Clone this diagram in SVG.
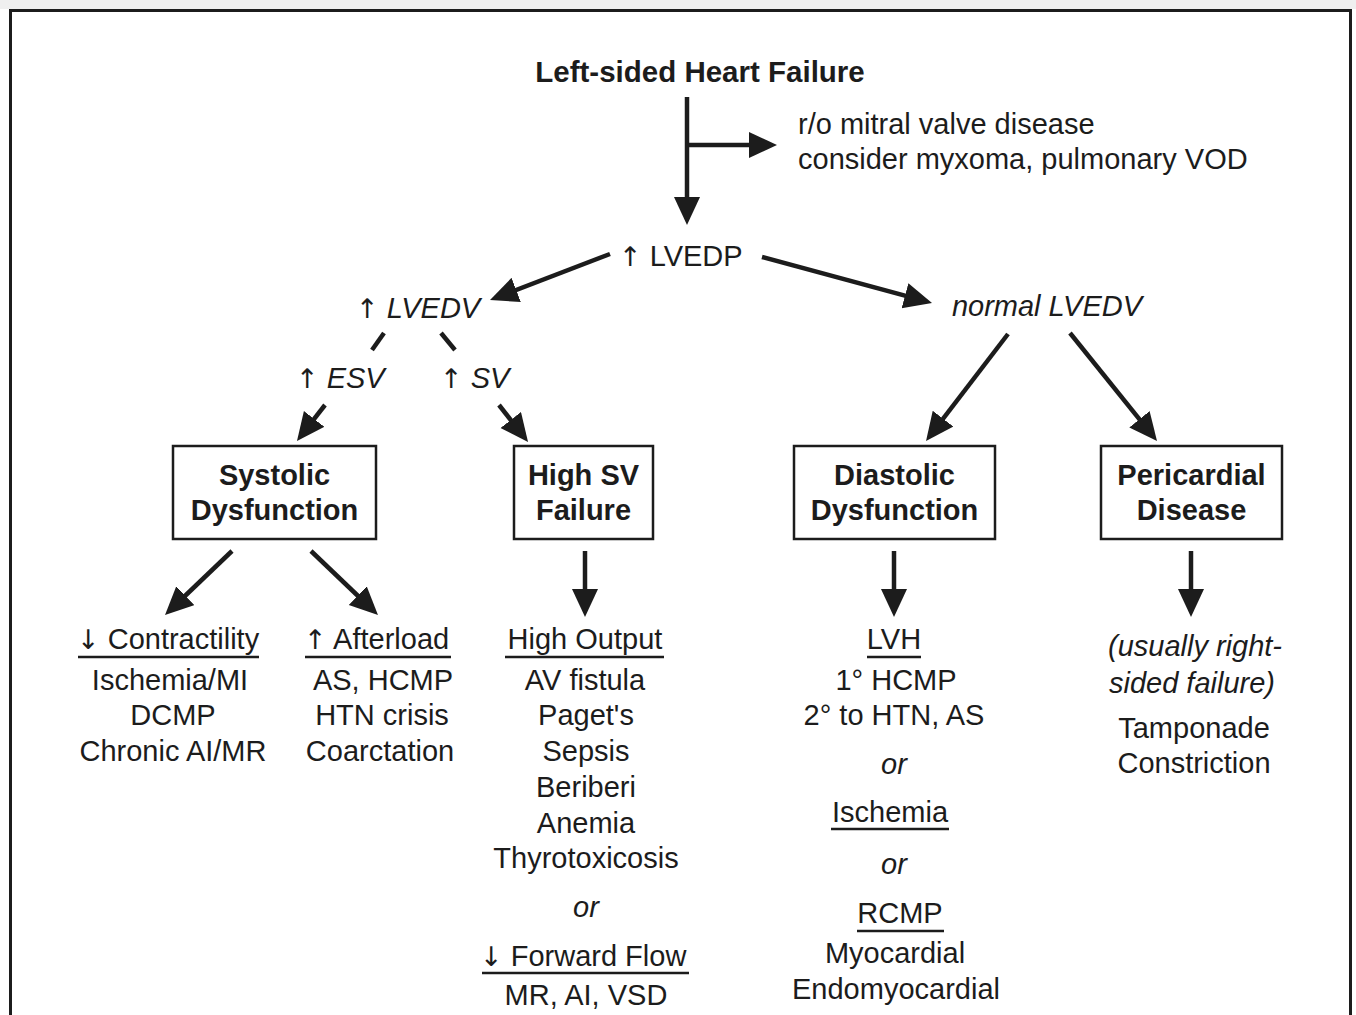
<svg xmlns="http://www.w3.org/2000/svg" width="1356" height="1015" viewBox="0 0 1356 1015">
<defs>
<style>
text{font-family:"Liberation Sans",Arial,Helvetica,sans-serif;font-size:29px;fill:#1c1c1c}
.b{font-weight:bold}
.i{font-style:italic}
.m{text-anchor:middle}
.ar{font-family:"DejaVu Sans",sans-serif;font-style:normal;font-size:27px}
.box{fill:#fff;stroke:#1c1c1c;stroke-width:2.5}
.c line{stroke:#1c1c1c;stroke-width:4.5}
.u{stroke:#1c1c1c;stroke-width:2.5}
</style>
<marker id="ah" markerUnits="userSpaceOnUse" markerWidth="30" markerHeight="28" refX="20" refY="13" orient="auto">
<path d="M0,0 L28,13 L0,26 z" fill="#1c1c1c"/>
</marker>
</defs>
<rect x="0" y="0" width="1356" height="1015" fill="#fff"/>
<rect x="0" y="0" width="1356" height="9" fill="#efefef"/>
<rect x="10.5" y="10.5" width="1340" height="1020" fill="none" stroke="#1c1c1c" stroke-width="3"/>

<g class="c" id="connectors">
<line x1="687" y1="97" x2="687" y2="217" marker-end="url(#ah)"/>
<line x1="687" y1="145" x2="769" y2="145" marker-end="url(#ah)"/>
<line x1="610" y1="254" x2="497.5" y2="297.1" marker-end="url(#ah)"/>
<line x1="762" y1="257" x2="924.3" y2="300.9" marker-end="url(#ah)"/>
<line x1="384" y1="333" x2="372" y2="350"/>
<line x1="441" y1="333" x2="455" y2="350"/>
<line x1="325" y1="405" x2="301.9" y2="434.7" marker-end="url(#ah)"/>
<line x1="499" y1="405" x2="523.1" y2="435.7" marker-end="url(#ah)"/>
<line x1="1008" y1="334" x2="930.9" y2="434.6" marker-end="url(#ah)"/>
<line x1="1070" y1="333" x2="1152" y2="434.8" marker-end="url(#ah)"/>
<line x1="232" y1="551" x2="170.8" y2="609.5" marker-end="url(#ah)"/>
<line x1="311" y1="551" x2="372.2" y2="609.5" marker-end="url(#ah)"/>
<line x1="585" y1="551" x2="585" y2="609" marker-end="url(#ah)"/>
<line x1="894" y1="551" x2="894" y2="609" marker-end="url(#ah)"/>
<line x1="1191" y1="551" x2="1191" y2="609" marker-end="url(#ah)"/>
</g>

<g id="title"><text class="b m" x="700" y="82" style="font-size:29.5px">Left-sided Heart Failure</text></g>
<g id="note">
<text x="798" y="134">r/o mitral valve disease</text>
<text x="798" y="169">consider myxoma, pulmonary VOD</text>
</g>
<g id="lvedp"><text x="619" y="266"><tspan class="ar">↑</tspan> LVEDP</text></g>
<g id="lvedv"><text class="i" x="356" y="318"><tspan class="ar">↑</tspan> LVEDV</text></g>
<g id="normal"><text class="i m" x="1047" y="316">normal LVEDV</text></g>
<g id="esv"><text class="i" x="296" y="388"><tspan class="ar">↑</tspan> ESV</text></g>
<g id="sv"><text class="i" x="440" y="388"><tspan class="ar">↑</tspan> SV</text></g>

<g id="systolic">
<rect class="box" x="173" y="446" width="203" height="93"/>
<text class="b m" x="274.5" y="485">Systolic</text>
<text class="b m" x="274.5" y="520">Dysfunction</text>
</g>
<g id="highsv">
<rect class="box" x="514" y="446" width="139" height="93"/>
<text class="b m" x="583.5" y="485">High SV</text>
<text class="b m" x="583.5" y="520">Failure</text>
</g>
<g id="diastolic">
<rect class="box" x="794" y="446" width="201" height="93"/>
<text class="b m" x="894.5" y="485">Diastolic</text>
<text class="b m" x="894.5" y="520">Dysfunction</text>
</g>
<g id="pericardial">
<rect class="box" x="1101" y="446" width="181" height="93"/>
<text class="b m" x="1191.5" y="485">Pericardial</text>
<text class="b m" x="1191.5" y="520">Disease</text>
</g>

<g id="contractility">
<text x="77" y="649"><tspan class="ar">↓</tspan> Contractility</text>
<line class="u" x1="78" y1="657" x2="259" y2="657"/>
<text class="m" x="170" y="690">Ischemia/MI</text>
<text class="m" x="173" y="725">DCMP</text>
<text class="m" x="173" y="761">Chronic AI/MR</text>
</g>
<g id="afterload">
<text x="304" y="649"><tspan class="ar">↑</tspan> Afterload</text>
<line class="u" x1="305" y1="657" x2="451" y2="657"/>
<text class="m" x="383" y="690">AS, HCMP</text>
<text class="m" x="382" y="725">HTN crisis</text>
<text class="m" x="380" y="761">Coarctation</text>
</g>
<g id="highoutput">
<text class="m" x="585" y="649">High Output</text>
<line class="u" x1="505" y1="657" x2="664" y2="657"/>
<text class="m" x="585" y="690">AV fistula</text>
<text class="m" x="586" y="725">Paget's</text>
<text class="m" x="586" y="761">Sepsis</text>
<text class="m" x="586" y="797">Beriberi</text>
<text class="m" x="586" y="833">Anemia</text>
<text class="m" x="586" y="868">Thyrotoxicosis</text>
<text class="i m" x="586" y="917">or</text>
<text x="480" y="966"><tspan class="ar">↓</tspan> Forward Flow</text>
<line class="u" x1="482" y1="973" x2="689" y2="973"/>
<text class="m" x="586" y="1005">MR, AI, VSD</text>
</g>
<g id="lvh">
<text class="m" x="894" y="649">LVH</text>
<line class="u" x1="867" y1="657" x2="921" y2="657"/>
<text class="m" x="896" y="690">1° HCMP</text>
<text class="m" x="894" y="725">2° to HTN, AS</text>
<text class="i m" x="894" y="774">or</text>
<text class="m" x="890" y="822">Ischemia</text>
<line class="u" x1="831" y1="829" x2="949" y2="829"/>
<text class="i m" x="894" y="874">or</text>
<text class="m" x="900" y="923">RCMP</text>
<line class="u" x1="857" y1="931" x2="944" y2="931"/>
<text class="m" x="895" y="963">Myocardial</text>
<text class="m" x="896" y="999">Endomyocardial</text>
</g>
<g id="pericardial-causes">
<text class="i m" x="1195" y="656">(usually right-</text>
<text class="i m" x="1192" y="693">sided failure)</text>
<text class="m" x="1194" y="738">Tamponade</text>
<text class="m" x="1194" y="773">Constriction</text>
</g>
</svg>
